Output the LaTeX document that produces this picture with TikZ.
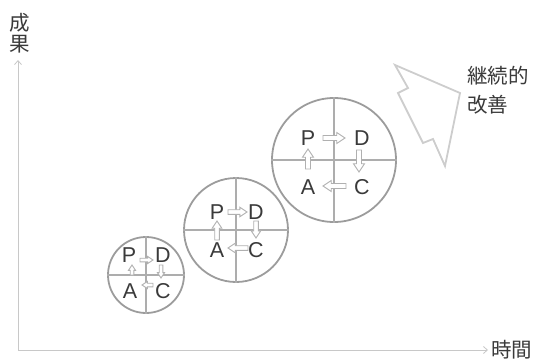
\documentclass[tikz,border=0pt]{standalone}
\usepackage{fontspec}
\setmainfont{Liberation Sans}
\newfontfamily\jp{Noto Sans CJK JP}
\usetikzlibrary{arrows.meta}
\definecolor{axisgray}{HTML}{C8C8C8}
\definecolor{circgray}{HTML}{9C9C9C}
\definecolor{crossgray}{HTML}{ADADAD}
\definecolor{arrgray}{HTML}{B0B0B0}
\definecolor{biggray}{HTML}{CDCDCD}
\definecolor{txt}{HTML}{3A3A3A}
\newcommand\blockarrow[6]{%
  \draw[pdarr, shift={(#1,#2)}, rotate=#3]
    (0,-#5) -- ({#4-1.5*#6},-#5) -- ({#4-1.5*#6},-#6) -- (#4,0)
    -- ({#4-1.5*#6},#6) -- ({#4-1.5*#6},#5) -- (0,#5) -- cycle;}
\begin{document}
\begin{tikzpicture}[x=1pt,y=-1pt,
  axis/.style={draw=axisgray, line width=0.8pt, -{Straight Barb[length=4pt,width=7pt]}},
  cyc/.style={circle, draw=circgray, line width=1.8pt, inner sep=0},
  crossline/.style={draw=crossgray, line width=1.6pt},
  letter/.style={inner sep=0, font=\fontsize{21.5}{21.5}\selectfont, text=txt},
  pdarr/.style={draw=arrgray, fill=white, line width=0.9pt, line join=miter},
  bigarrow/.style={draw=biggray, line width=1.8pt, line join=miter},
  jplabel/.style={inner sep=0, font=\jp\fontsize{20.5}{20.5}\selectfont, text=txt}]
\useasboundingbox (0,0) rectangle (535,359);

% axes
\coordinate (O) at (18,350);
\coordinate (Ytip) at (18,60);
\coordinate (Xtip) at (488,350);
\draw[axis] (O) -- (Ytip);
\draw[axis] (O) -- (Xtip);
\node[jplabel, anchor=base] (y1) at (20,30) {成};
\node[jplabel, anchor=base] (y2) at (20,51) {果};
\node[jplabel, anchor=base west] (x1) at (491,357) {時間};

% big arrow and label
\draw[bigarrow] (395,65) -- (408,88) -- (398,93) -- (423,143) -- (433,139)
  -- (445,166) -- (460,93) -- cycle;
\node[jplabel, anchor=base west] (k1) at (467,83) {継続的};
\node[jplabel, anchor=base west] (k2) at (467,112) {改善};

% large circle
\node[cyc, minimum size=124pt] (L) at (334,160) {};
\draw[crossline] (L.north) -- (L.south);
\draw[crossline] (L.west) -- (L.east);
\node[letter] (LP) at (308,138) {P};
\node[letter] (LD) at (362,138) {D};
\node[letter] (LA) at (308,187) {A};
\node[letter] (LC) at (362,187) {C};
\blockarrow{323}{138}{0}{22}{2.5}{5.5}
\blockarrow{359}{150}{-90}{22}{2.5}{5.5}
\blockarrow{346}{186}{180}{23}{2.5}{5.5}
\blockarrow{308}{169}{90}{20}{2.5}{5.5}

% medium circle
\node[cyc, minimum size=104pt] (M) at (236,230) {};
\draw[crossline] (M.north) -- (M.south);
\draw[crossline] (M.west) -- (M.east);
\node[letter] (MP) at (217,212) {P};
\node[letter] (MD) at (256,212) {D};
\node[letter] (MA) at (217,250) {A};
\node[letter] (MC) at (256,250) {C};
\blockarrow{228}{212}{0}{19}{2.3}{4.8}
\blockarrow{256}{221}{-90}{17}{2.3}{4.8}
\blockarrow{248}{248}{180}{20}{2.3}{4.8}
\blockarrow{217}{240}{90}{19}{2.3}{4.8}

% small circle
\node[cyc, minimum size=76pt] (S) at (146,275) {};
\draw[crossline] (S.north) -- (S.south);
\draw[crossline] (S.west) -- (S.east);
\node[letter] (SP) at (129,255) {P};
\node[letter] (SD) at (163,255) {D};
\node[letter] (SA) at (130,291) {A};
\node[letter] (SC) at (163,291) {C};
\blockarrow{140}{260}{0}{13}{1.8}{3.6}
\blockarrow{161}{265}{-90}{13}{1.8}{3.6}
\blockarrow{153}{285}{180}{11}{1.8}{3.6}
\blockarrow{132}{275}{90}{10}{1.8}{3.6}
\end{tikzpicture}
\end{document}
